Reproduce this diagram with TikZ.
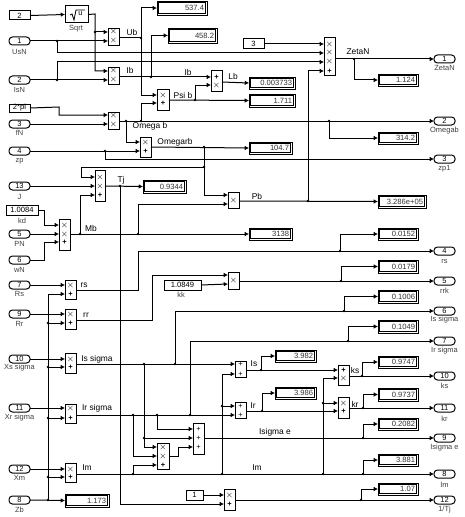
\documentclass[tikz,border=0pt]{standalone}
\usepackage{fontspec}
\setmainfont{Liberation Sans}
\usetikzlibrary{arrows.meta}
% px-sized fonts
\newcommand{\fw}{\fontsize{6.3pt}{7pt}\selectfont}
\newcommand{\fb}{\fontsize{5.6pt}{6pt}\selectfont}
\newcommand{\fv}{\fontsize{5.7pt}{6pt}\selectfont}
\tikzset{
  wire/.style={line width=0.75pt,-{Latex[length=3.2pt,width=3.4pt]}},
  seg/.style={line width=0.75pt},
  wlab/.style={inner sep=0pt,font=\fw},
  blab/.style={inner sep=0pt,font=\fb,text=black!75},
  sign/.style={inner sep=0pt,font=\fb},
  bx/.style={draw,line width=0.75pt,inner sep=0pt,outer sep=0pt,anchor=north west,fill=white},
  portb/.style={bx,rounded corners=2.6pt},
  dispb/.style={bx,line width=0.6pt},
}
% junction: name, x, y
\newcommand{\jn}[3]{\coordinate (#1) at (#2,#3); \fill (#1) circle[radius=1pt];}
% block: name,x1,y1,x2,y2,outy,{y/sign list}
\newcommand{\blk}[7]{%
  \node[bx,minimum width={(#4-#2)*0.75pt},minimum height={(#5-#3)*0.75pt}] (#1) at (#2,#3) {};
  \coordinate (#1-o) at (#4,#6);
  \foreach \yy/\ss [count=\ii] in {#7}{%
    \coordinate (#1-i\ii) at (#2,\yy);
    \node[sign] (#1-s\ii) at ({(#2+#4)/2},\yy) {\ss};
  }%
}
% block with one central sign: name,x1,y1,x2,y2,outy,in1,in2
\newcommand{\blkone}[8]{%
  \node[bx,font=\fb,minimum width={(#4-#2)*0.75pt},minimum height={(#5-#3)*0.75pt}] (#1) at (#2,#3) {$\times$};
  \coordinate (#1-o) at (#4,#6);
  \coordinate (#1-i1) at (#2,#7);
  \coordinate (#1-i2) at (#2,#8);
}
% inport/outport: name,x1,y,number,label,labely
\newcommand{\port}[6]{%
  \node[portb,minimum width={21*0.75pt},minimum height={8*0.75pt}] (#1) at (#2,#3-4) {};
  \node[sign] (#1-n) at (#1) {#4};
  \coordinate (#1-e) at (#2+21,#3);
  \coordinate (#1-w) at (#2,#3);
  \node[blab] (#1-l) at (#2+10.5,#6) {#5};
}
% constant: name,x1,y1,x2,y2,value
\newcommand{\cons}[6]{%
  \node[bx,minimum width={(#4-#2)*0.75pt},minimum height={(#5-#3)*0.75pt},font=\fv] (#1) at (#2,#3) {#6};
}
% display: name,x1,y1,x2,y2,value
\newcommand{\disp}[6]{%
  \node[dispb,minimum width={(#4-#2)*0.75pt},minimum height={(#5-#3)*0.75pt}] (#1) at (#2,#3) {};
  \draw[line width=0.55pt] (#2+1.7,#3+1.7) rectangle (#4-1.7,#5-1.7);
  \draw[line width=1pt] (#2+1.7,#3+1.7) -- (#2+1.7,#5-1.7);
  \node[inner sep=0pt,anchor=east,font=\fv,text=black!80] (#1-v) at (#4-2.7,{(#3+#5)/2}) {#6};
  \coordinate (#1-w) at (#2,{(#3+#5)/2});
}
\begin{document}
\begin{tikzpicture}[x=0.75pt,y=-0.75pt]
\useasboundingbox (0,0) rectangle (464,517);
\fill[white] (0,0) rectangle (464,517);

% ---- sources
\cons{cTwo}{9}{11}{30}{20}{2}
\node[bx,minimum width={23*0.75pt},minimum height={17*0.75pt}] (sqrt) at (65,6) {};
\draw[line width=0.6pt] (70,15) -- (72,14) -- (74,20) -- (76,10) -- (85,10);
\node[inner sep=0pt,font=\fb] (sqrtu) at (80.5,13.5) {u};
\node[blab] (sqrtl) at (76,29) {Sqrt};
\port{UsN}{9}{41}{1}{UsN}{52}
\port{IsN}{9}{80}{2}{IsN}{90}
\cons{cPi}{9}{104}{30}{112}{2*pi}
\port{fN}{9}{124}{3}{fN}{133}
\port{zp}{9}{151}{4}{zp}{161}
\port{J}{9}{186}{13}{J}{197}
\cons{kd}{6}{205}{38}{215}{1.0084}
\node[blab] (kdl) at (22,221) {kd};
\port{PN}{9}{234}{5}{PN}{244}
\port{wN}{9}{260}{6}{wN}{270}
\port{Rs}{9}{285}{7}{Rs}{294}
\port{Rr}{9}{314}{9}{Rr}{324}
\port{Xs}{9}{359}{10}{Xs sigma}{368}
\port{Xr}{9}{408}{11}{Xr sigma}{418}
\port{Xm}{9}{469}{12}{Xm}{478}
\port{Zb}{9}{500}{8}{Zb}{510}
\cons{cThree}{243}{39}{264}{49}{3}
\cons{kk}{164}{280}{201}{290}{1.0849}
\node[blab] (kkl) at (181,295) {kk};
\cons{cOne}{186}{490}{203}{500}{1}

% ---- blocks
\blk{Ub}{108}{29}{119}{46}{38}{32/$\times$,41/$\times$}
\blk{Ib}{108}{68}{119}{84}{77}{71/$\times$,80/$\times$}
\blk{Om}{108}{112}{119}{129}{121}{115/$\times$,124/$\times$}
\blk{Psi}{157}{89}{169}{110}{100}{95/$\times$,103/\textbf{+}}
\blk{Lb}{211}{71}{222}{91}{82}{77/\textbf{+},85/$\times$}
\blk{Omr}{140}{137}{151}{157}{147}{142/$\times$,151/\textbf{+}}
\blk{Tj}{95}{170}{105}{201}{186}{177/$\times$,186/$\times$,195/\textbf{+}}
\blk{Mb}{59}{219}{70}{250}{234}{225/$\times$,234/$\times$,242/\textbf{+}}
\blk{rs}{65}{280}{76}{299}{290}{285/$\times$,294/\textbf{+}}
\blk{rr}{65}{309}{76}{329}{320}{314/$\times$,323/\textbf{+}}
\blkone{Pb}{228}{192}{239}{208}{201}{195}{204}
\blkone{rrk}{228}{272}{239}{289}{281}{275}{284}
\blk{Zeta}{324}{38}{335}{76}{59}{44/$\times$,53/$\times$,62/$\times$,71/\textbf{+}}
\blk{Iss}{65}{353}{76}{373}{364}{359/$\times$,367/\textbf{+}}
\blk{Irs}{65}{404}{76}{423}{415}{408/$\times$,418/\textbf{+}}
\blk{Im}{65}{463}{76}{482}{474}{469/$\times$,477/\textbf{+}}
\blk{IsSum}{235}{361}{246}{377}{370}{364/+,374/+}
\blk{IrSum}{235}{402}{246}{418}{411}{406/+,415/+}
\blk{Isp}{157}{443}{169}{469}{456}{447/$\times$,456/$\times$,465/\textbf{+}}
\blk{Ise}{193}{423}{204}{454}{438}{429/+,438/+,447/+}
\blk{ks}{338}{365}{349}{385}{376}{370/\textbf{+},378/$\times$}
\blk{kr}{338}{397}{349}{418}{408}{403/$\times$,411/\textbf{+}}
\blk{Tji}{224}{489}{235}{510}{500}{495/$\times$,504/\textbf{+}}

% ---- displays
\disp{d5374}{157}{1}{207}{15}{537.4}
\disp{d4582}{168}{28}{217}{43}{458.2}
\disp{dLb}{249}{77}{295}{89}{0.003733}
\disp{dPsi}{249}{94}{295}{107}{1.711}
\disp{dOmr}{249}{142}{292}{154}{104.7}
\disp{dZeta}{378}{74}{418}{86}{1.124}
\disp{dOm}{378}{132}{418}{144}{314.2}
\disp{dTj}{143}{180}{186}{193}{0.9344}
\disp{dPb}{378}{195}{426}{208}{3.286e+05}
\disp{dMb}{249}{228}{292}{240}{3138}
\disp{drs}{378}{228}{418}{240}{0.0152}
\disp{drr}{378}{260}{418}{273}{0.0179}
\disp{dls}{378}{290}{418}{303}{0.1006}
\disp{dlr}{378}{320}{418}{333}{0.1049}
\disp{dIs}{275}{350}{316}{362}{3.982}
\disp{dks}{378}{356}{418}{368}{0.9747}
\disp{dIr}{275}{387}{316}{399}{3.986}
\disp{dkr}{378}{388}{418}{401}{0.9737}
\disp{dIse}{378}{418}{418}{430}{0.2082}
\disp{dIm}{378}{454}{418}{466}{3.881}
\disp{dTji}{378}{483}{418}{495}{1.07}
\disp{dZb}{65}{494}{109}{507}{1.173}

% ---- outports
\port{oZeta}{434}{59}{1}{ZetaN}{68}
\port{oOm}{434}{121}{2}{Omegab}{131}
\port{ozp}{434}{159}{3}{zp1}{169}
\port{ors}{434}{251}{4}{rs}{262}
\port{orr}{434}{281}{5}{rrk}{291}
\port{ols}{434}{311}{6}{Is sigma}{320}
\port{olr}{434}{341}{7}{Ir sigma}{351}
\port{oks}{434}{376}{10}{ks}{386}
\port{okr}{434}{408}{11}{kr}{419}
\port{oIse}{434}{438}{9}{Isigma e}{448}
\port{oIm}{434}{474}{8}{Im}{485}
\port{oTj}{434}{500}{12}{1/Tj}{510}

% ---- junctions
\jn{j57a}{57}{41}
\jn{j57b}{57}{80}
\jn{jUb}{141}{38}
\jn{jIb}{151}{77}
\jn{jPsi}{195}{100}
\jn{jOm1}{126}{121}
\jn{jOm2}{141}{121}
\jn{jOm3}{329}{121}
\jn{jzp}{105}{151}
\jn{jOmr1}{204}{147}
\jn{jOmr2}{204}{167}
\jn{jTj}{120}{186}
\jn{jMb1}{80}{234}
\jn{jMb2}{138}{234}
\jn{jPb}{308}{201}
\jn{jZeta}{354}{59}
\jn{jrs}{340}{251}
\jn{jrr}{341}{281}
\jn{jls}{344}{311}
\jn{jlr}{348}{341}
\jn{jrr2}{48}{323}
\jn{jXs}{48}{367}
\jn{jXr}{48}{418}
\jn{jXm}{48}{477}
\jn{jZb}{48}{500}
\jn{jIs1}{144}{364}
\jn{jIs2}{175}{364}
\jn{jIs3}{261}{370}
\jn{jIr1}{133}{415}
\jn{jIr2}{157}{415}
\jn{jIr3}{190}{415}
\jn{jIr4}{262}{411}
\jn{jIse}{144}{438}
\jn{jIm1}{133}{474}
\jn{jIm2}{222}{474}
\jn{jIm3}{323}{474}
\jn{jIm4}{363}{474}
\jn{jA}{222}{406}
\jn{jB}{323}{403}
\jn{jks}{362}{376}
\jn{jkr}{363}{408}
\jn{jIse2}{363}{438}
\jn{jTji}{361}{500}
\jn{jSq}{95}{32}

% ---- wires, top
\draw[wire] (cTwo.east) -- (sqrt.west);
\draw[wire] (sqrt.east) -- (95,14) |- (Ib-i1);
\draw[wire] (jSq) -- (Ub-i1);
\draw[wire] (UsN-e) -- (Ub-i2);
\draw[wire] (j57a) |- (Zeta-i2);
\draw[wire] (IsN-e) -- (Ib-i2);
\draw[wire] (j57b) |- (Zeta-i3);
\draw[seg] (Ub-o) -- (jUb);
\draw[wire] (jUb) |- (d5374-w);
\draw[wire] (jUb) |- (Psi-i1);
\draw[wire] (Ib-o) -- (Lb-i1);
\draw[wire] (jIb) |- (d4582-w);
\draw[wire] (cPi.east) -- (59,107) |- (Om-i1);
\draw[wire] (fN-e) -- (Om-i2);
\draw[wire] (Om-o) -- (oOm-w);
\draw[wire] (jOm1) |- (Omr-i1);
\draw[wire] (jOm2) |- (Psi-i2);
\draw[wire] (jOm3) |- (dOm-w);
\draw[wire] (Psi-o) -- (dPsi-w);
\draw[wire] (jPsi) |- (Lb-i2);
\draw[wire] (Lb-o) -- (dLb-w);
\draw[wire] (zp-e) -- (Omr-i2);
\draw[wire] (jzp) |- (ozp-w);
\draw[wire] (Omr-o) -- (dOmr-w);
\draw[seg] (jOmr1) -- (jOmr2);
\draw[wire] (jOmr2) |- (Pb-i1);
\draw[wire] (jOmr2) -- (81,167) |- (Tj-i1);
\draw[wire] (cThree.east) -- (Zeta-i1);
\draw[wire] (Zeta-o) -- (oZeta-w);
\draw[wire] (jZeta) |- (dZeta-w);

% ---- wires, middle
\draw[wire] (J-e) -- (Tj-i2);
\draw[wire] (Tj-o) -- (dTj-w);
\draw[wire] (jTj) |- (Tji-i2);
\draw[wire] (kd.east) -- (44,210) |- (Mb-i1);
\draw[wire] (PN-e) -- (Mb-i2);
\draw[wire] (wN-e) -- (44,260) |- (Mb-i3);
\draw[wire] (Mb-o) -- (dMb-w);
\draw[wire] (jMb1) |- (Tj-i3);
\draw[wire] (jMb2) |- (Pb-i2);
\draw[wire] (Pb-o) -- (dPb-w);
\draw[wire] (jPb) |- (Zeta-i4);
\draw[wire] (Rs-e) -- (rs-i1);
\draw[wire] (rs-o) -- (138,290) |- (ors-w);
\draw[wire] (jrs) |- (drs-w);
\draw[wire] (Rr-e) -- (rr-i1);
\draw[wire] (rr-o) -- (152,320) |- (rrk-i1);
\draw[wire] (kk.east) -- (rrk-i2);
\draw[wire] (rrk-o) -- (orr-w);
\draw[wire] (jrr) |- (drr-w);

% ---- Zb bus
\draw[wire] (Zb-e) -- (dZb-w);
\draw[wire] (jZb) |- (rs-i2);
\draw[wire] (jrr2) -- (rr-i2);
\draw[wire] (jXs) -- (Iss-i2);
\draw[wire] (jXr) -- (Irs-i2);
\draw[wire] (jXm) -- (Im-i2);

% ---- wires, bottom
\draw[wire] (Xs-e) -- (Iss-i1);
\draw[wire] (Xr-e) -- (Irs-i1);
\draw[wire] (Xm-e) -- (Im-i1);
\draw[wire] (Iss-o) -- (IsSum-i1);
\draw[wire] (Irs-o) -- (IrSum-i2);
\draw[wire] (jIs2) |- (ols-w);
\draw[wire] (jIr3) |- (olr-w);
\draw[wire] (jls) |- (dls-w);
\draw[wire] (jlr) |- (dlr-w);
\draw[wire] (jIs1) |- (Isp-i1);
\draw[wire] (jIse) -- (Ise-i2);
\draw[wire] (jIr1) |- (Isp-i2);
\draw[wire] (jIr2) |- (Ise-i1);
\draw[wire] (jIm1) |- (Isp-i3);
\draw[wire] (Isp-o) -- (178,456) |- (Ise-i3);
\draw[wire] (Ise-o) -- (oIse-w);
\draw[wire] (jIse2) |- (dIse-w);
\draw[wire] (Im-o) -- (oIm-w);
\draw[wire] (jIm4) |- (dIm-w);
\draw[wire] (jIm2) |- (IsSum-i2);
\draw[wire] (jA) -- (IrSum-i1);
\draw[wire] (jIm3) |- (ks-i2);
\draw[wire] (jB) -- (kr-i1);
\draw[wire] (IsSum-o) -- (ks-i1);
\draw[wire] (jIs3) |- (dIs-w);
\draw[wire] (IrSum-o) -- (kr-i2);
\draw[wire] (jIr4) |- (dIr-w);
\draw[wire] (ks-o) -- (oks-w);
\draw[wire] (jks) |- (dks-w);
\draw[wire] (kr-o) -- (okr-w);
\draw[wire] (jkr) |- (dkr-w);
\draw[wire] (cOne.east) -- (Tji-i1);
\draw[wire] (Tji-o) -- (oTj-w);
\draw[wire] (jTji) |- (dTji-w);

% ---- wire labels
\node[wlab] (lUb) at (132,32) {Ub};
\node[wlab] (lIb1) at (130,70) {Ib};
\node[wlab] (lIb2) at (188,72) {Ib};
\node[wlab] (lLb) at (233,76) {Lb};
\node[wlab] (lPsi) at (183,95) {Psi b};
\node[wlab] (lOm) at (150,126) {Omega b};
\node[wlab] (lOmr) at (175,142) {Omegarb};
\node[wlab] (lZeta) at (358,52) {ZetaN};
\node[wlab] (lTj) at (121,180) {Tj};
\node[wlab] (lMb) at (91,228) {Mb};
\node[wlab] (lPb) at (257,196) {Pb};
\node[wlab] (lrs) at (84,285) {rs};
\node[wlab] (lrr) at (86,315) {rr};
\node[wlab] (lIss) at (97,359) {Is sigma};
\node[wlab] (lIrs) at (97,408) {Ir sigma};
\node[wlab] (lIm) at (87,468) {Im};
\node[wlab] (lIs) at (254,364) {Is};
\node[wlab] (lIr) at (253,406) {Ir};
\node[wlab] (lIse) at (275,432) {Isigma e};
\node[wlab] (lIm2) at (257,468) {Im};
\node[wlab] (lks) at (355,370) {ks};
\node[wlab] (lkr) at (355,404) {kr};
\end{tikzpicture}
\end{document}
